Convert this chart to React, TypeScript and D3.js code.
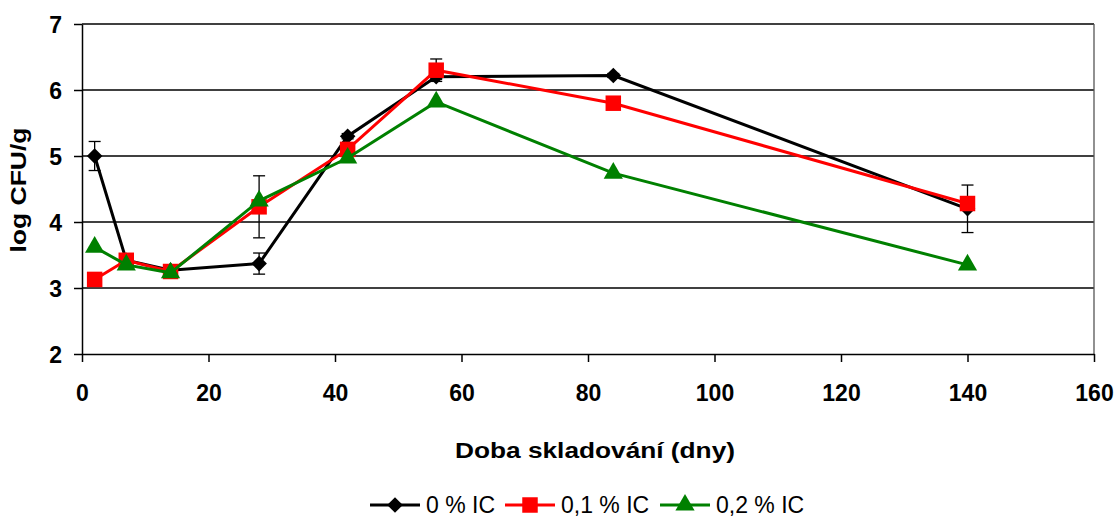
import React, { useRef, useEffect } from "react";
import * as d3 from "d3";

// storage days and log CFU/g values
const days = [2, 7, 14, 28, 42, 56, 84, 140];
const series0 = [5.0, 3.42, 3.27, 3.37, 5.3, 6.2, 6.22, 4.2];
const series01 = [3.13, 3.42, 3.25, 4.23, 5.1, 6.3, 5.8, 4.28];
const series02 = [3.62, 3.35, 3.23, 4.32, 4.97, 5.82, 4.74, 3.35];
const err0 = [0.22, 0.04, 0.03, 0.16, 0.04, 0.04, 0.03, 0.36];
const err01 = [0, 0, 0, 0.47, 0, 0.17, 0, 0];
const err02 = [0, 0, 0, 0, 0, 0, 0, 0];
const seriesNames = ["0 % IC", "0,1 % IC", "0,2 % IC"];
const xTicks = [0, 20, 40, 60, 80, 100, 120, 140, 160];
const yTicks = [2, 3, 4, 5, 6, 7];

interface Series {
  name: string;
  values: number[];
  errors: number[];
  color: string;
  marker: "diamond" | "square" | "triangle";
}

export default function App() {
  const svgRef = useRef<SVGSVGElement | null>(null);

  useEffect(() => {
    const W = 1118;
    const H = 519;
    const font = "Arial, 'Liberation Sans', sans-serif";

    const svg = d3.select(svgRef.current);
    svg.selectAll("*").remove();
    svg.attr("width", W).attr("height", H);

    const x = d3.scaleLinear().domain([0, 160]).range([82, 1094]);
    const y = d3.scaleLinear().domain([2, 7]).range([354, 24]);

    const series: Series[] = [
      { name: seriesNames[0], values: series0, errors: err0, color: "#000000", marker: "diamond" },
      { name: seriesNames[1], values: series01, errors: err01, color: "#ff0000", marker: "square" },
      { name: seriesNames[2], values: series02, errors: err02, color: "#008000", marker: "triangle" },
    ];

    // gridlines
    svg
      .append("g")
      .selectAll("line")
      .data(yTicks.filter((t) => t > 2))
      .join("line")
      .attr("x1", x(0))
      .attr("x2", x(160))
      .attr("y1", (d) => y(d))
      .attr("y2", (d) => y(d))
      .attr("stroke", "#000")
      .attr("stroke-width", 1.3);

    // right border of plot area
    svg
      .append("line")
      .attr("x1", x(160))
      .attr("x2", x(160))
      .attr("y1", y(7))
      .attr("y2", y(2))
      .attr("stroke", "#555")
      .attr("stroke-width", 1.3);

    // axes
    const yAxis = svg
      .append("g")
      .attr("transform", `translate(${x(0)},0)`)
      .call(
        d3.axisLeft(y).tickValues(yTicks).tickFormat(d3.format("d")).tickSize(8).tickSizeOuter(0).tickPadding(12)
      );
    const xAxis = svg
      .append("g")
      .attr("transform", `translate(0,${y(2)})`)
      .call(
        d3.axisBottom(x).tickValues(xTicks).tickFormat(d3.format("d")).tickSize(8).tickSizeOuter(0)
      );

    [yAxis, xAxis].forEach((g) => {
      g.selectAll("path, line").attr("stroke", "#000").attr("stroke-width", 1.5);
      g.selectAll("text")
        .attr("font-family", font)
        .attr("font-size", 23)
        .attr("font-weight", "bold")
        .attr("fill", "#000");
    });
    yAxis.selectAll("text").attr("dy", "0.35em");
    xAxis.selectAll("text").attr("y", 47).attr("dy", 0);

    // axis titles
    svg
      .append("text")
      .attr("transform", `translate(26,${190}) rotate(-90)`)
      .attr("text-anchor", "middle")
      .attr("font-family", font)
      .attr("font-size", 22)
      .attr("font-weight", "bold")
      .attr("textLength", 125)
      .attr("lengthAdjust", "spacingAndGlyphs")
      .text("log CFU/g");
    svg
      .append("text")
      .attr("x", 595)
      .attr("y", 458)
      .attr("text-anchor", "middle")
      .attr("font-family", font)
      .attr("font-size", 22)
      .attr("font-weight", "bold")
      .attr("textLength", 280)
      .attr("lengthAdjust", "spacingAndGlyphs")
      .text("Doba skladování (dny)");

    const markerPath = (m: Series["marker"]) => {
      if (m === "diamond") return d3.symbol(d3.symbolDiamond2, 155)();
      if (m === "square") return d3.symbol(d3.symbolSquare, 240)();
      return d3.symbol(d3.symbolTriangle, 160)();
    };

    const line = d3
      .line<number>()
      .x((_, i) => x(days[i]))
      .y((d) => y(d));

    series.forEach((s) => {
      const g = svg.append("g");
      // error bars
      s.values.forEach((v, i) => {
        const e = s.errors[i];
        if (!e) return;
        const cx = x(days[i]);
        g.append("line")
          .attr("x1", cx).attr("x2", cx)
          .attr("y1", y(v + e)).attr("y2", y(v - e))
          .attr("stroke", "#000").attr("stroke-width", 1.3);
        [v + e, v - e].forEach((yy) => {
          g.append("line")
            .attr("x1", cx - 6).attr("x2", cx + 6)
            .attr("y1", y(yy)).attr("y2", y(yy))
            .attr("stroke", "#000").attr("stroke-width", 1.3);
        });
      });
      g.append("path")
        .datum(s.values)
        .attr("fill", "none")
        .attr("stroke", s.color)
        .attr("stroke-width", 3)
        .attr("d", line);
      g.selectAll("path.pt")
        .data(s.values)
        .join("path")
        .attr("class", "pt")
        .attr("d", markerPath(s.marker))
        .attr("transform", (d, i) => `translate(${x(days[i])},${y(d)})`)
        .attr("fill", s.color);
    });

    // legend
    const legendY = 505;
    const lg = svg.append("g");
    series.forEach((s, i) => {
      const x0 = [370, 505, 660][i];
      lg.append("line")
        .attr("x1", x0).attr("x2", x0 + 50)
        .attr("y1", legendY).attr("y2", legendY)
        .attr("stroke", s.color).attr("stroke-width", 3);
      lg.append("path")
        .attr("d", markerPath(s.marker))
        .attr("transform", `translate(${x0 + 25},${legendY})`)
        .attr("fill", s.color);
      lg.append("text")
        .attr("x", x0 + 56)
        .attr("y", legendY + 8)
        .attr("font-family", font)
        .attr("font-size", 23)
        .text(s.name);
    });
  }, []);

  return (
    <div style={{ position: "absolute", left: 0, top: 0, background: "#fff" }}>
      <svg ref={svgRef} style={{ display: "block" }} />
    </div>
  );
}
